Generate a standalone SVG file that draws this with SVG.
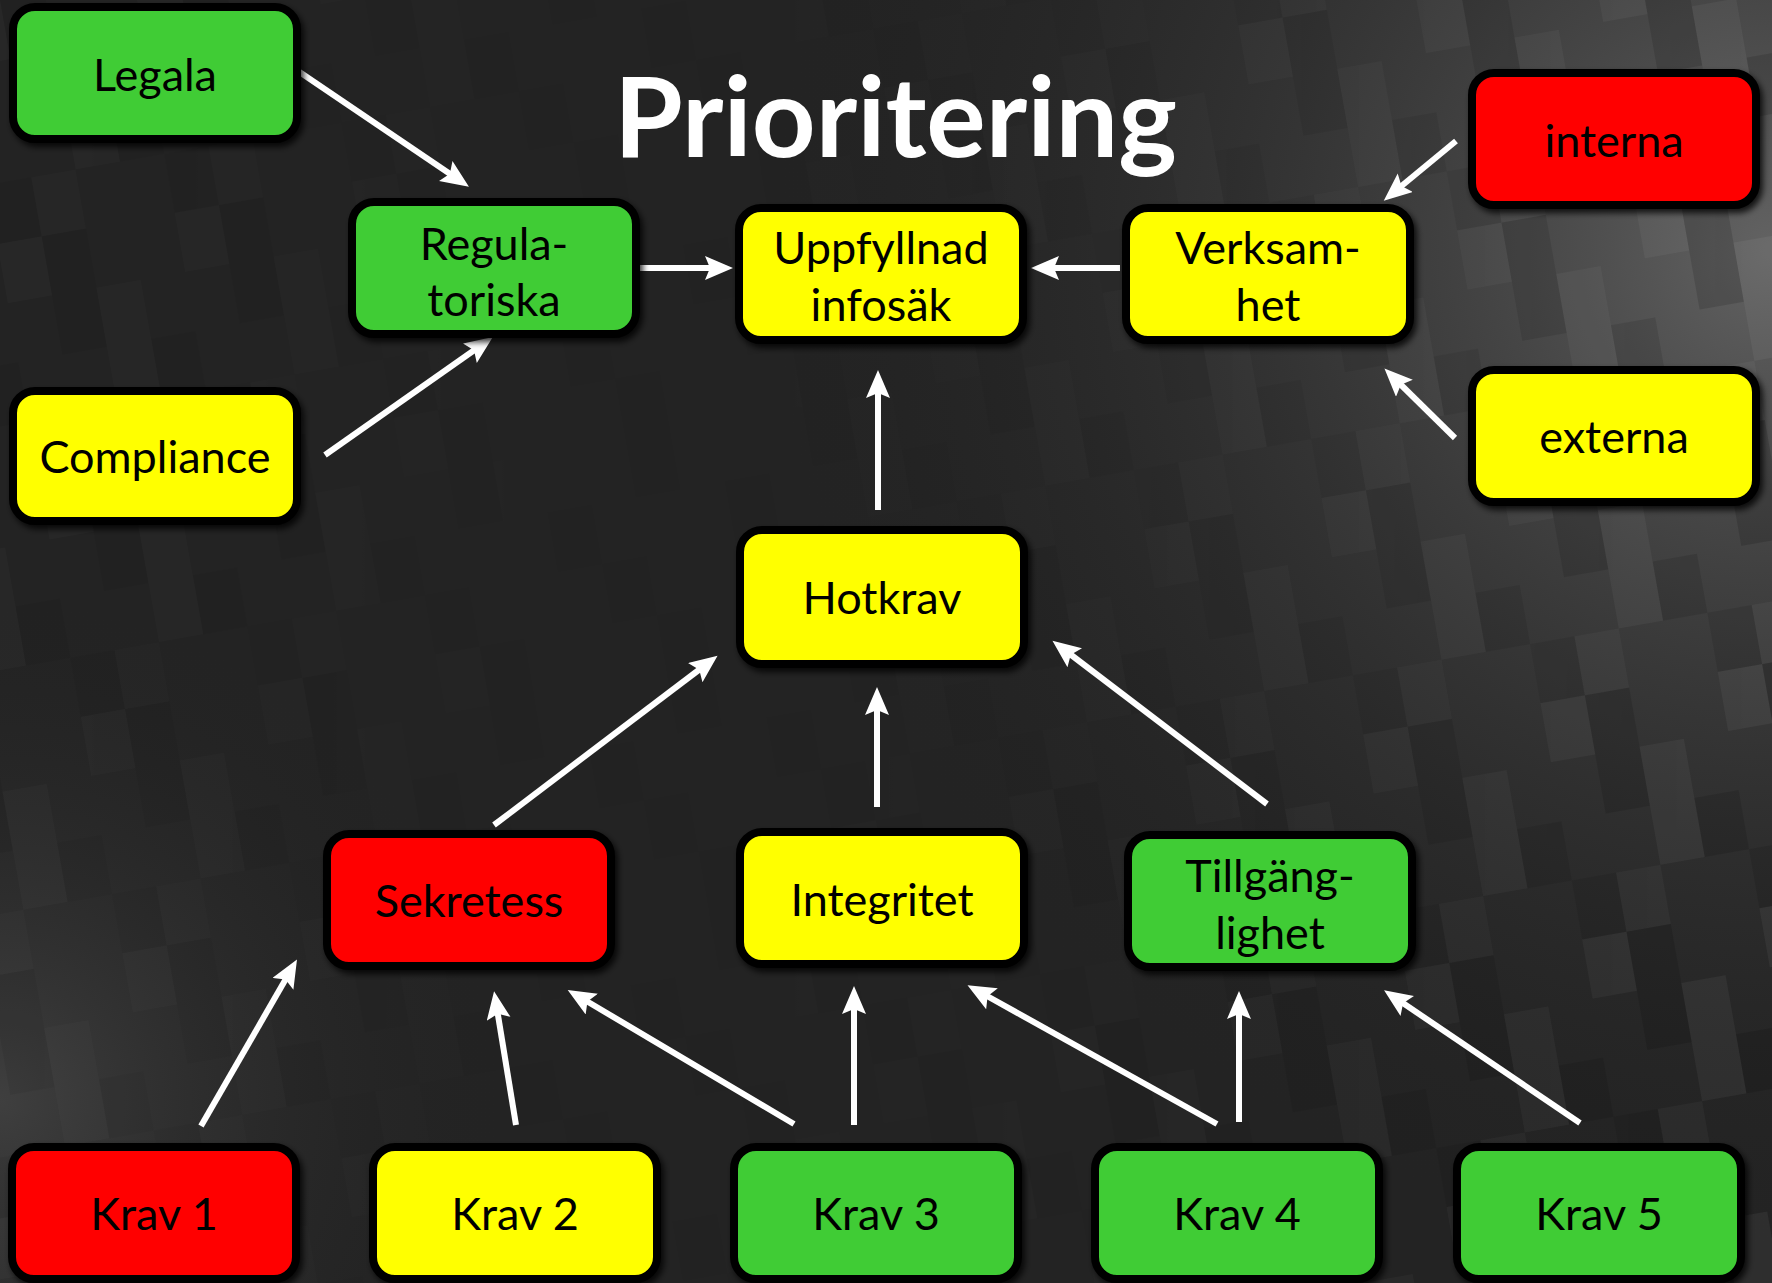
<svg xmlns="http://www.w3.org/2000/svg" width="1772" height="1283" viewBox="0 0 1772 1283">
<defs>
  <radialGradient id="bgR" cx="1772" cy="250" r="1000" gradientUnits="userSpaceOnUse">
    <stop offset="0" stop-color="#6a6a6a" stop-opacity="0.9"/>
    <stop offset="0.45" stop-color="#474747" stop-opacity="0.55"/>
    <stop offset="1" stop-color="#242424" stop-opacity="0"/>
  </radialGradient>
  <radialGradient id="bgL" cx="0" cy="1100" r="500" gradientUnits="userSpaceOnUse">
    <stop offset="0" stop-color="#464646" stop-opacity="0.8"/>
    <stop offset="1" stop-color="#242424" stop-opacity="0"/>
  </radialGradient>
  <pattern id="mosaic" width="180" height="240" patternUnits="userSpaceOnUse" patternTransform="rotate(-10)">
    <rect x="0" y="0" width="45" height="120" fill="#000" opacity="0.14"/>
    <rect x="45" y="60" width="45" height="120" fill="#fff" opacity="0.05"/>
    <rect x="90" y="120" width="45" height="60" fill="#000" opacity="0.12"/>
    <rect x="135" y="0" width="45" height="60" fill="#fff" opacity="0.05"/>
    <rect x="0" y="180" width="45" height="60" fill="#fff" opacity="0.04"/>
    <rect x="135" y="180" width="45" height="60" fill="#000" opacity="0.1"/>
  </pattern>
  <linearGradient id="mfade" x1="0" y1="0" x2="1" y2="0">
    <stop offset="0" stop-color="#fff" stop-opacity="0.4"/>
    <stop offset="0.35" stop-color="#fff" stop-opacity="0.05"/>
    <stop offset="0.65" stop-color="#fff" stop-opacity="0.25"/>
    <stop offset="1" stop-color="#fff" stop-opacity="1"/>
  </linearGradient>
  <mask id="mmask"><rect width="1772" height="1283" fill="url(#mfade)"/></mask>
  <filter id="sh" x="-10%" y="-10%" width="125%" height="130%">
    <feDropShadow dx="3" dy="4" stdDeviation="3" flood-color="#000" flood-opacity="0.8"/>
  </filter>
  <marker id="ah" markerUnits="userSpaceOnUse" markerWidth="30" markerHeight="26" refX="16" refY="12" orient="auto">
    <path d="M0,0 L28,12 L0,24 L5,12 Z" fill="#fff"/>
  </marker>
  <style>
    .n rect { stroke:#000; stroke-width:8; filter:url(#sh); }
    .g { fill:#3fcc35; }
    .y { fill:#ffff00; }
    .r { fill:#ff0000; }
    .n text { font-family:Lato, "Open Sans", "Liberation Sans", sans-serif; font-size:45px; fill:#000; text-anchor:middle; }
    .title { font-family:Lato, "Open Sans", "Liberation Sans", sans-serif; font-weight:700; font-size:112px; fill:#fff; }
    #connectors line { stroke:#fff; stroke-width:6; marker-end:url(#ah); }
  </style>
</defs>

<rect width="1772" height="1283" fill="#232323"/>
<rect width="1772" height="1283" fill="url(#bgL)"/>
<rect width="1772" height="1283" fill="url(#bgR)"/>
<rect width="1772" height="1283" fill="url(#mosaic)" mask="url(#mmask)"/>

<text class="title" x="614" y="157" textLength="563" lengthAdjust="spacingAndGlyphs">Prioritering</text>

<g id="connectors">
  <line x1="298" y1="71" x2="459" y2="180"/>
  <line x1="325" y1="455" x2="483" y2="344"/>
  <line x1="640" y1="268" x2="721" y2="268"/>
  <line x1="1120" y1="268" x2="1043" y2="268"/>
  <line x1="1456" y1="141" x2="1393" y2="193"/>
  <line x1="1455" y1="438" x2="1393" y2="377"/>
  <line x1="878" y1="510" x2="878" y2="382"/>
  <line x1="494" y1="825" x2="708" y2="663"/>
  <line x1="877" y1="807" x2="877" y2="699"/>
  <line x1="1267" y1="804" x2="1062" y2="648"/>
  <line x1="201" y1="1126" x2="291" y2="970"/>
  <line x1="516" y1="1125" x2="496" y2="1003"/>
  <line x1="794" y1="1124" x2="578" y2="996"/>
  <line x1="854" y1="1125" x2="854" y2="998"/>
  <line x1="1217" y1="1124" x2="978" y2="991"/>
  <line x1="1239" y1="1122" x2="1239" y2="1003"/>
  <line x1="1580" y1="1123" x2="1394" y2="997"/>
</g>

<g id="legala" class="n"><rect class="g" x="13" y="7" width="284" height="132" rx="22"/><text x="155" y="91">Legala</text></g>
<g id="regulatoriska" class="n"><rect class="g" x="352" y="202" width="284" height="132" rx="22"/><text x="494" y="260">Regula-</text><text x="494" y="316">toriska</text></g>
<g id="uppfyllnad" class="n"><rect class="y" x="739" y="208" width="284" height="132" rx="22"/><text x="881" y="264">Uppfyllnad</text><text x="881" y="321">infosäk</text></g>
<g id="verksamhet" class="n"><rect class="y" x="1126" y="208" width="284" height="132" rx="22"/><text x="1268" y="264">Verksam-</text><text x="1268" y="321">het</text></g>
<g id="interna" class="n"><rect class="r" x="1472" y="73" width="284" height="132" rx="22"/><text x="1614" y="157">interna</text></g>
<g id="externa" class="n"><rect class="y" x="1472" y="370" width="284" height="132" rx="22"/><text x="1614" y="453">externa</text></g>
<g id="compliance" class="n"><rect class="y" x="13" y="391" width="284" height="130" rx="22"/><text x="155" y="473">Compliance</text></g>
<g id="hotkrav" class="n"><rect class="y" x="740" y="530" width="284" height="134" rx="22"/><text x="882" y="614">Hotkrav</text></g>
<g id="sekretess" class="n"><rect class="r" x="327" y="834" width="284" height="132" rx="22"/><text x="469" y="917">Sekretess</text></g>
<g id="integritet" class="n"><rect class="y" x="740" y="832" width="284" height="132" rx="22"/><text x="882" y="916">Integritet</text></g>
<g id="tillganglighet" class="n"><rect class="g" x="1128" y="835" width="284" height="132" rx="22"/><text x="1270" y="892">Tillgäng-</text><text x="1270" y="949">lighet</text></g>
<g id="krav1" class="n"><rect class="r" x="12" y="1147" width="284" height="132" rx="22"/><text x="154" y="1230">Krav 1</text></g>
<g id="krav2" class="n"><rect class="y" x="373" y="1147" width="284" height="132" rx="22"/><text x="515" y="1230">Krav 2</text></g>
<g id="krav3" class="n"><rect class="g" x="734" y="1147" width="284" height="132" rx="22"/><text x="876" y="1230">Krav 3</text></g>
<g id="krav4" class="n"><rect class="g" x="1095" y="1147" width="284" height="132" rx="22"/><text x="1237" y="1230">Krav 4</text></g>
<g id="krav5" class="n"><rect class="g" x="1457" y="1147" width="284" height="132" rx="22"/><text x="1599" y="1230">Krav 5</text></g>
</svg>
